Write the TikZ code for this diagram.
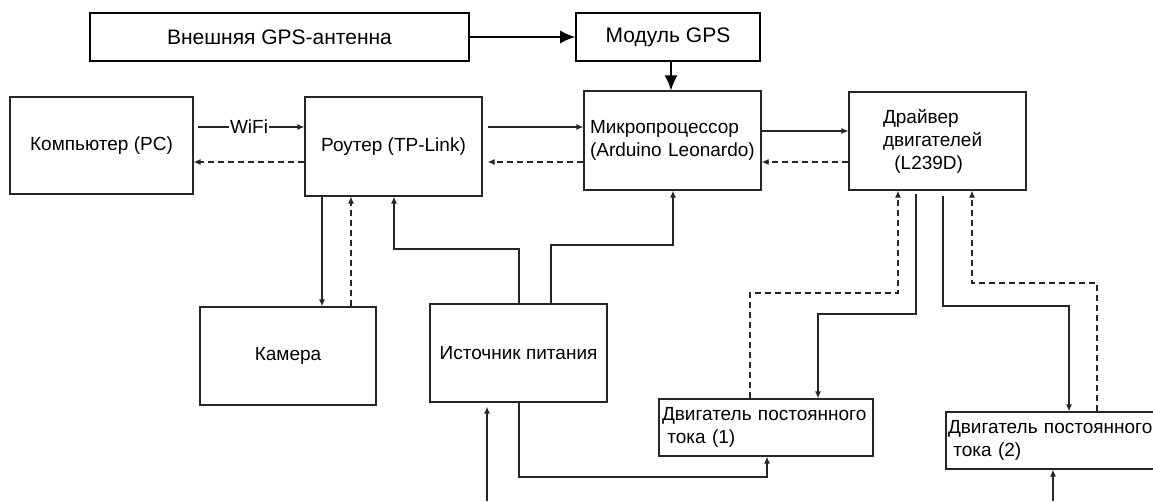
\documentclass[tikz,border=0pt]{standalone}
\usepackage{fontspec}
\setmainfont{Liberation Sans}
\usepackage{tikz}
\usetikzlibrary{arrows.meta}

\begin{document}
\begin{tikzpicture}[x=1pt,y=-1pt,
  blk/.style={draw=black!85, line width=1.2pt, inner sep=0pt, font=\fontsize{19}{23}\selectfont},
  topblk/.style={blk, draw=black, line width=1.6pt, font=\fontsize{21}{25}\selectfont},
  lblk/.style={blk, align=left},
  ln/.style={draw=black!85, line width=1.2pt},
  sig/.style={ln, -{Latex[length=7pt,width=6pt]}},
  back/.style={sig, dash pattern=on 6pt off 4pt},
  big/.style={ln, draw=black, line width=1.6pt, -{Latex[length=15pt,width=13pt]}}]
\useasboundingbox (0,0) rectangle (1153,501);
\clip (0,0) rectangle (1153,501);

% blocks
\node[topblk, minimum width=379, minimum height=48] (ant) at (279.5,37) {Внешняя GPS-антенна};
\node[topblk, minimum width=184, minimum height=48] (gps) at (668,37) {Модуль GPS};
\node[blk, minimum width=183, minimum height=97] (pc) at (101.5,145.5) {Компьютер (PC)};
\node[blk, minimum width=177, minimum height=99] (router) at (393.5,146.5) {Роутер (TP-Link)};
\node[lblk, minimum width=177, minimum height=99, inner xsep=6pt, text width=165pt] (mcu) at (672.5,140.5)
  {Микропроцессор\\(Arduino Leonardo)};
\node[lblk, minimum width=177, minimum height=98, inner xsep=34pt, text width=109pt] (drv) at (937.5,141)
  {Драйвер\\двигателей\\\hspace*{0.6em}(L239D)};
\node[blk, minimum width=176, minimum height=98] (cam) at (288,356) {Камера};
\node[blk, minimum width=177, minimum height=98] (pwr) at (518.5,353) {Источник питания};
\node[lblk, minimum width=214, minimum height=57, inner xsep=3pt, text width=208pt] (m1) at (766,427.5)
  {Двигатель постоянного\\\hspace*{0.28em}тока (1)};
\node[lblk, minimum width=214, minimum height=57, inner xsep=2pt, text width=210pt] (m2) at (1053,440.5)
  {Двигатель постоянного\\\hspace*{0.28em}тока (2)};
\coordinate (inpwr) at (487,501);
\coordinate (inm2) at (1053,501);

% GPS
\draw[big] (ant.east) -- (gps.west);
\draw[big] (gps.south -| 671,0) -- (mcu.north -| 671,0);

% PC / router / MCU / driver
\draw[sig, shorten <=4pt] (pc.east |- 0,127) -- node[fill=white, inner sep=1pt, font=\fontsize{19}{23}\selectfont] {WiFi} (router.west |- 0,127);
\draw[back] (router.west |- 0,162) -- (pc.east |- 0,162);
\draw[sig, shorten <=5pt] (router.east |- 0,127) -- (mcu.west |- 0,127);
\draw[back, shorten >=5pt] (mcu.west |- 0,162) -- (router.east |- 0,162);
\draw[sig] (mcu.east |- 0,131) -- (drv.west |- 0,131);
\draw[back] (drv.west |- 0,162) -- (mcu.east |- 0,162);

% camera
\draw[sig] (router.south -| 322,0) -- (cam.north -| 322,0);
\draw[back] (cam.north -| 351,0) -- (router.south -| 351,0);

% power
\draw[sig] (pwr.north -| 519,0) |- (394,249) -- (router.south -| 394,0);
\draw[sig] (pwr.north -| 551,0) |- (673,245) -- (mcu.south -| 673,0);
\draw[sig] (pwr.south -| 519,0) |- (767,477) -- (m1.south -| 767,0);
\draw[sig, shorten >=4pt] (inpwr) -- (pwr.south -| 487,0);
\draw[sig] (inm2) -- (m2.south);

% motors
\draw[sig, shorten <=3pt] (drv.south -| 916,0) |- (818,314) -- (m1.north -| 818,0);
\draw[back] (m1.north -| 750,0) |- (898,293) -- (drv.south -| 898,0);
\draw[sig, shorten <=5pt] (drv.south -| 943,0) |- (1069,306) -- (m2.north -| 1069,0);
\draw[back] (m2.north -| 1097,0) |- (972,283) -- (drv.south -| 972,0);
\end{tikzpicture}
\end{document}
